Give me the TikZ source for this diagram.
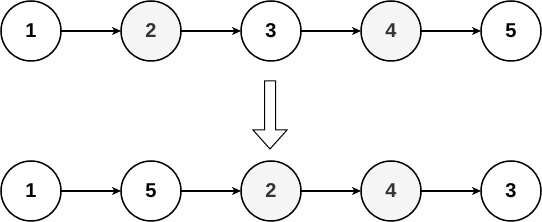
\documentclass[tikz,border=0pt]{standalone}
\usepackage{fontspec}
\setmainfont{Liberation Sans}
\usetikzlibrary{arrows.meta, positioning}
\definecolor{nodegray}{RGB}{245, 245, 245}
\definecolor{textgray}{RGB}{51, 51, 51}

\begin{document}
\begin{tikzpicture}[
  x=1pt, y=1pt,
  listnode/.style={circle, draw=black, fill=white, line width=1.5pt, minimum size=60pt, inner sep=0pt, outer sep=0pt, font=\fontsize{20}{24}\selectfont\bfseries},
  graynode/.style={listnode, fill=nodegray, text=textgray},
  arr/.style={-{Stealth[length=9pt, width=8pt, inset=2.5pt]}, line width=1.2pt}
]
  \useasboundingbox (0, 0) rectangle (542, 222);

  % top list
  \node[listnode] (t1) at (31, 191) {1};
  \node[graynode, right=60pt of t1] (t2) {2};
  \node[listnode, right=60pt of t2] (t3) {3};
  \node[graynode, right=60pt of t3] (t4) {4};
  \node[listnode, right=60pt of t4] (t5) {5};

  % bottom list
  \node[listnode] (b1) at (31, 31) {1};
  \node[listnode, right=60pt of b1] (b2) {5};
  \node[graynode, right=60pt of b2] (b3) {2};
  \node[graynode, right=60pt of b3] (b4) {4};
  \node[listnode, right=60pt of b4] (b5) {3};

  \foreach \i/\j in {1/2, 2/3, 3/4, 4/5} {
    \draw[arr] (t\i) -- (t\j);
    \draw[arr] (b\i) -- (b\j);
  }

  % block arrow
  \draw[line width=1pt, fill=white] (264.5, 141) -- (275.5, 141) -- (275.5, 92) -- (287, 92)
    -- (270, 73) -- (253, 92) -- (264.5, 92) -- cycle;

\end{tikzpicture}
\end{document}
